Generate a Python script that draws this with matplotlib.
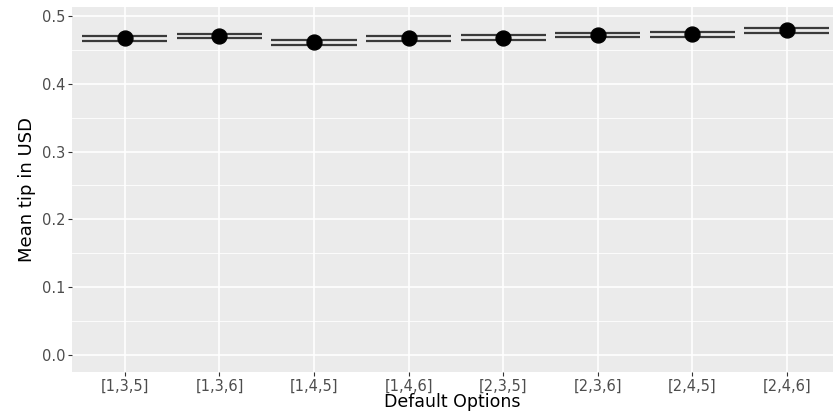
import matplotlib.pyplot as plt
import numpy as np

# data
options = ['[1,3,5]', '[1,3,6]', '[1,4,5]', '[1,4,6]', '[2,3,5]', '[2,3,6]', '[2,4,5]', '[2,4,6]']
mean_tip = [0.4673, 0.4705, 0.4612, 0.4670, 0.4680, 0.4722, 0.4728, 0.4786]
ci_low = [0.4636, 0.4671, 0.4572, 0.4631, 0.4641, 0.4686, 0.4695, 0.4745]
ci_high = [0.4709, 0.4739, 0.4646, 0.4709, 0.4724, 0.4754, 0.4764, 0.4823]
yticks = [0.0, 0.1, 0.2, 0.3, 0.4, 0.5]

W, H = 835, 412
fig = plt.figure(figsize=(W / 100, H / 100), dpi=100)
ax = fig.add_axes([72 / W, 1 - 372 / H, (833 - 72) / W, (372 - 7) / H])
ax.set_facecolor('#EBEBEB')
for s in ax.spines.values():
    s.set_visible(False)

x = np.arange(len(options))

# grid, ggplot style
for yv in np.arange(0.05, 0.5, 0.1):
    ax.axhline(yv, color='white', lw=0.6, zorder=0)
for yv in yticks:
    ax.axhline(yv, color='white', lw=1.2, zorder=0)
for xv in x:
    ax.axvline(xv, color='white', lw=1.2, zorder=0)

# error bars: wide horizontal caps
half = 0.45
ax.hlines(ci_low, x - half, x + half, color='#3a3a3a', lw=1.6, zorder=2)
ax.hlines(ci_high, x - half, x + half, color='#3a3a3a', lw=1.6, zorder=2)
ax.scatter(x, mean_tip, s=115, color='black', zorder=3)

ax.set_xlim(-0.56, 7.49)
ax.set_ylim(-0.025, 0.513)
ax.set_xticks(x)
ax.set_xticklabels(options)
ax.set_yticks(yticks)
ax.set_yticklabels(['%.1f' % v for v in yticks])
ax.tick_params(axis='both', colors='#333333', labelcolor='#4D4D4D', labelsize=10.5,
               length=3, width=0.8, pad=2)
ax.set_xlabel('Default Options', fontsize=12.5, labelpad=-1)
ax.set_ylabel('Mean tip in USD', fontsize=13, labelpad=4)

fig.savefig('out.png', dpi=100)
